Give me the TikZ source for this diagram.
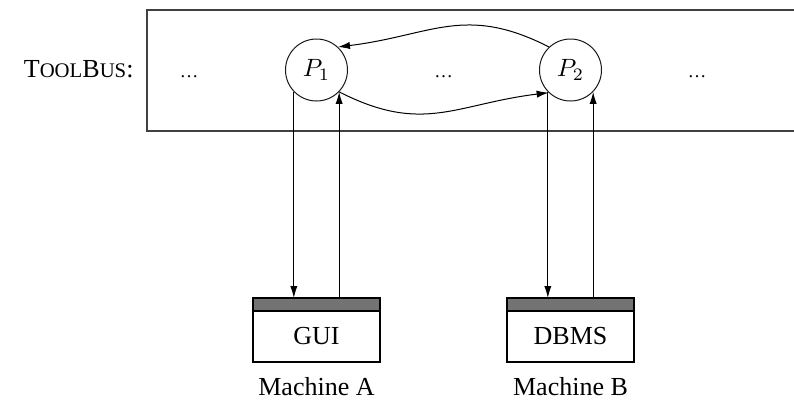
\documentclass[tikz,border=0pt]{standalone}
\usepackage{fontspec}
\setmainfont{Liberation Serif}
\usetikzlibrary{arrows.meta,positioning}

\begin{document}
\begin{tikzpicture}[x=0.4pt,y=0.4pt,
    font=\fontsize{10.4}{12.5}\selectfont,
    proc/.style={circle,draw=black!90,line width=0.4pt,minimum size=24.8pt,inner sep=0pt},
    busdots/.style={anchor=base,inner sep=0pt,font=\fontsize{7.4}{9}\selectfont},
    tool/.style={rectangle,draw,line width=0.5pt,minimum width=50.8pt,minimum height=20.4pt,inner sep=0pt,outer sep=0pt},
    toolbar/.style={rectangle,draw,line width=0.5pt,fill=black!55,minimum width=50.8pt,minimum height=5.2pt,inner sep=0pt,outer sep=0pt},
    machine/.style={inner sep=0pt},
    msg/.style={-{Latex[length=4.8pt,width=2.9pt]},line width=0.4pt}]
    \useasboundingbox (0,0) rectangle (794,403);
    \draw[line width=0.8pt,black!75] (794,393) -- (146.5,393) -- (146.5,272.5) -- (794,272.5);
    \node[anchor=base east,inner sep=0pt] (bus) at (134,326)
        {T{\fontsize{8.3}{10}\selectfont OOL}B{\fontsize{8.3}{10}\selectfont US}:};
    \node[busdots] (d1) at (189,326) {\dots};
    \node[busdots] (d2) at (443.5,326) {\dots};
    \node[busdots] (d3) at (697,326) {\dots};
    \node[proc] (p1) at (316.5,333) {$P_1$};
    \node[proc] (p2) at (570.5,333) {$P_2$};
    \node[tool] (gui) at (316.5,66.5) {GUI};
    \node[toolbar,above=0pt of gui] (guibar) {};
    \node[tool] (dbms) at (570.5,66.5) {DBMS};
    \node[toolbar,above=0pt of dbms] (dbmsbar) {};
    \node[machine,below=6pt of gui] (ma) {Machine A};
    \node[machine,below=6pt of dbms] (mb) {Machine B};
    \draw[msg] (p2.133) to[out=153,in=7,looseness=1.15] (p1.47);
    \draw[msg] (p1.316) to[out=-27,in=187,looseness=1.15] (p2.226);
    \draw[msg] (p1.224) -- (p1.224 |- guibar.north);
    \draw[msg] (p1.316 |- guibar.north) -- (p1.316);
    \draw[msg] (p2.224) -- (p2.224 |- dbmsbar.north);
    \draw[msg] (p2.316 |- dbmsbar.north) -- (p2.316);
\end{tikzpicture}
\end{document}
